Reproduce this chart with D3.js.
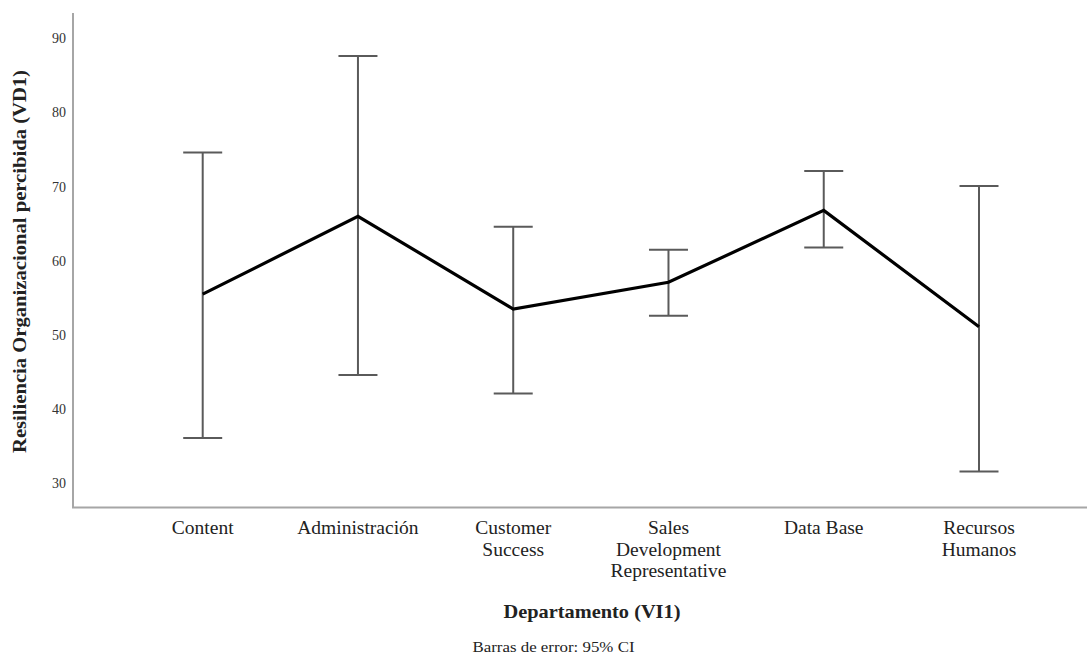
<!DOCTYPE html>
<html>
<head>
<meta charset="utf-8">
<script src="https://cdn.jsdelivr.net/npm/d3@7"></script>
<style>
  body { margin: 0; background: #fff; }
  svg { display: block; }
  text { font-family: "Liberation Serif", "DejaVu Serif", serif; }
</style>
</head>
<body>
<svg id="chart" width="1087" height="657"></svg>
<script>
// ---- Data ----
const categories = ["Content", "Administración", "Customer Success", "Sales Development Representative", "Data Base", "Recursos Humanos"];
const categoryLines = [["Content"], ["Administración"], ["Customer", "Success"], ["Sales", "Development", "Representative"], ["Data Base"], ["Recursos", "Humanos"]];
const means = [55.5, 66.0, 53.5, 57.1, 66.8, 51.1];
const ciLower = [36.1, 44.6, 42.1, 52.6, 61.8, 31.6];
const ciUpper = [74.6, 87.6, 64.6, 61.5, 72.1, 70.1];
const yTicks = [30, 40, 50, 60, 70, 80, 90];

const svg = d3.select("#chart");
const axisX = 73, axisBottom = 507.5, axisTop = 13, axisRight = 1087;

const x = d3.scalePoint().domain(categories).range([202.7, 979]);
const y = d3.scaleLinear().domain([30, 90]).range([483.3, 38.3]);

// axes lines
svg.append("line").attr("x1", axisX).attr("x2", axisX).attr("y1", axisTop).attr("y2", axisBottom)
  .attr("stroke", "#a6a6a6").attr("stroke-width", 2);
svg.append("line").attr("x1", axisX - 1).attr("x2", axisRight).attr("y1", axisBottom).attr("y2", axisBottom)
  .attr("stroke", "#a6a6a6").attr("stroke-width", 2);

// y tick labels via axis
const yAxis = d3.axisLeft(y).tickValues(yTicks).tickSize(0).tickPadding(7).tickFormat(d3.format("d"));
const gy = svg.append("g").attr("transform", `translate(${axisX},0)`).call(yAxis);
gy.select(".domain").remove();
gy.selectAll("text").attr("font-family", "Liberation Serif").attr("font-size", 14).attr("fill", "#333");

// x labels
const gx = svg.append("g");
categories.forEach((c, i) => {
  const t = gx.append("text").attr("x", x(c)).attr("y", 534).attr("text-anchor", "middle")
    .attr("font-size", 19.5).attr("fill", "#222");
  categoryLines[i].forEach((ln, j) => {
    t.append("tspan").attr("x", x(c)).attr("dy", j === 0 ? 0 : 21.5).text(ln);
  });
});

// error bars
const capHalf = 19.5;
const eb = svg.append("g").attr("stroke", "#5a5a5a").attr("stroke-width", 2).attr("fill", "none");
categories.forEach((c, i) => {
  const cx = x(c);
  eb.append("line").attr("x1", cx).attr("x2", cx).attr("y1", y(ciLower[i])).attr("y2", y(ciUpper[i]));
  eb.append("line").attr("x1", cx - capHalf).attr("x2", cx + capHalf).attr("y1", y(ciLower[i])).attr("y2", y(ciLower[i]));
  eb.append("line").attr("x1", cx - capHalf).attr("x2", cx + capHalf).attr("y1", y(ciUpper[i])).attr("y2", y(ciUpper[i]));
});

// mean line
const line = d3.line().x((d, i) => x(categories[i])).y(d => y(d));
svg.append("path").datum(means).attr("d", line).attr("fill", "none")
  .attr("stroke", "#000").attr("stroke-width", 3.2).attr("stroke-linejoin", "miter");

// axis titles
svg.append("text").attr("transform", "translate(26,261.5) rotate(-90)").attr("text-anchor", "middle")
  .attr("font-size", 18.5).attr("font-weight", "bold").attr("fill", "#222")
  .attr("textLength", 383).attr("lengthAdjust", "spacingAndGlyphs")
  .text("Resiliencia Organizacional percibida (VD1)");

svg.append("text").attr("x", 592).attr("y", 618).attr("text-anchor", "middle")
  .attr("font-size", 19).attr("font-weight", "bold").attr("fill", "#222")
  .attr("textLength", 177).attr("lengthAdjust", "spacingAndGlyphs")
  .text("Departamento (VI1)");

svg.append("text").attr("x", 553.5).attr("y", 652).attr("text-anchor", "middle")
  .attr("font-size", 15.5).attr("fill", "#222")
  .attr("textLength", 162).attr("lengthAdjust", "spacingAndGlyphs")
  .text("Barras de error: 95% CI");
</script>
</body>
</html>
